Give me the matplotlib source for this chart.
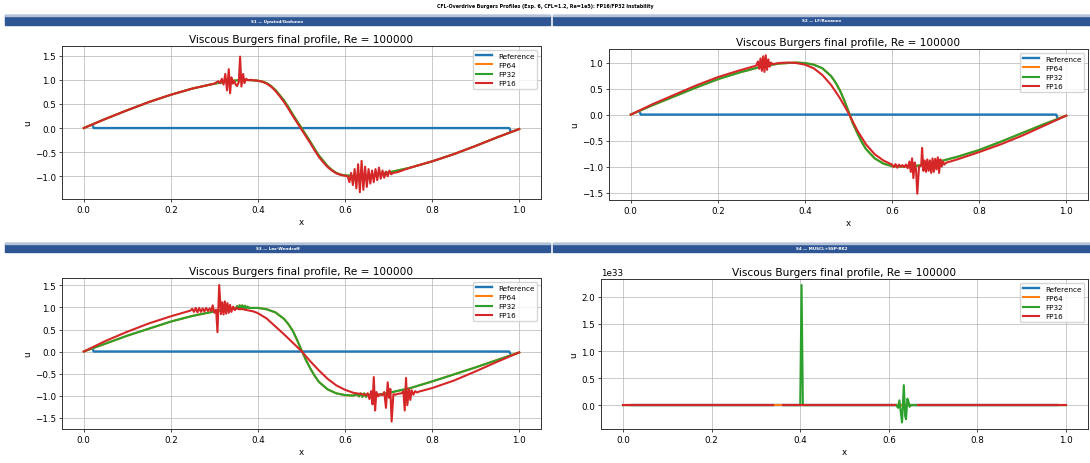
import matplotlib
matplotlib.use("Agg")
import matplotlib.pyplot as plt
from matplotlib.patches import Rectangle

nan = float("nan")

suptitle = "CFL-Overdrive Burgers Profiles (Exp. 6, CFL=1.2, Re=1e5): FP16/FP32 Instability"
panel_headers = ["S1 \u2014 Upwind/Godunov", "S2 \u2014 LF/Rusanov",
                 "S3 \u2014 Lax-Wendroff", "S4 \u2014 MUSCL+SSP-RK2"]
panel_title = "Viscous Burgers final profile, Re = 100000"
series_names = ["Reference", "FP64", "FP32", "FP16"]

# reference profile (same in every panel)
ref_x = [0.02, 0.023, 0.977, 0.98]
ref_u = [0.06, 0.0, 0.0, -0.06]

# ---- S1 upwind / Godunov
s1_fp32_x = [0.00, 0.05, 0.10, 0.15, 0.20, 0.25, 0.30, 0.34, 0.37, 0.40, 0.41, 0.42, 0.43,
             0.44, 0.45, 0.46, 0.47, 0.48, 0.49, 0.50, 0.51, 0.52, 0.53, 0.54, 0.55, 0.56,
             0.57, 0.58, 0.59, 0.60, 0.63, 0.66, 0.70, 0.75, 0.80, 0.85, 0.90, 0.95, 1.00]
s1_fp32_u = [0.00, 0.19, 0.37, 0.54, 0.69, 0.82, 0.92, 0.98, 1.00, 0.98, 0.965, 0.93, 0.87,
             0.79, 0.68, 0.57, 0.43, 0.28, 0.14, 0.00, -0.14, -0.28, -0.43, -0.57, -0.68, -0.79,
             -0.87, -0.93, -0.965, -0.98, -1.00, -0.98, -0.92, -0.82, -0.69, -0.54, -0.37, -0.19, -0.02]
s1_fp64_x, s1_fp64_u = s1_fp32_x, s1_fp32_u
s1_fp16_x = [0.00, 0.05, 0.10, 0.15, 0.20, 0.25, 0.30,
             0.305, 0.309, 0.313, 0.317, 0.321, 0.325, 0.329, 0.333, 0.336, 0.339, 0.342, 0.345,
             0.349, 0.352, 0.356, 0.359, 0.362, 0.366, 0.369, 0.373, 0.377, 0.382,
             0.40, 0.41, 0.42, 0.43, 0.44, 0.45, 0.46, 0.47, 0.48, 0.49, 0.50, 0.51, 0.52, 0.53,
             0.54, 0.55, 0.56, 0.57, 0.58, 0.59,
             0.600, 0.606, 0.610, 0.614, 0.618, 0.622, 0.626, 0.630, 0.634, 0.638, 0.642, 0.646,
             0.650, 0.654, 0.658, 0.662, 0.666, 0.670, 0.674, 0.678, 0.682, 0.686, 0.690, 0.694,
             0.698, 0.702, 0.706, 0.710, 0.72,
             0.75, 0.80, 0.85, 0.90, 0.95, 1.00]
s1_fp16_u = [0.00, 0.19, 0.37, 0.54, 0.69, 0.82, 0.92,
             0.95, 0.97, 0.93, 1.02, 0.90, 1.12, 0.78, 1.22, 0.72, 1.05, 0.92, 0.98,
             0.90, 0.87, 0.95, 1.48, 0.86, 1.12, 0.93, 1.02, 0.99, 1.00,
             0.98, 0.96, 0.92, 0.86, 0.77, 0.66, 0.54, 0.40, 0.25, 0.11, -0.03, -0.17, -0.31, -0.46,
             -0.60, -0.71, -0.81, -0.88, -0.94, -0.97,
             -0.99, -1.00, -1.12, -0.93, -1.18, -0.85, -1.25, -0.75, -1.33, -0.68, -1.28, -0.80,
             -1.22, -0.85, -1.15, -0.88, -1.12, -0.85, -1.08, -0.82, -1.05, -0.88, -1.03, -0.90,
             -1.00, -0.88, -0.96, -0.93, -0.915,
             -0.82, -0.69, -0.54, -0.37, -0.19, -0.02]

# ---- S2 LF / Rusanov
s2_fp32_x = [0.00, 0.05, 0.10, 0.15, 0.20, 0.25, 0.30, 0.34, 0.38, 0.40, 0.42, 0.44, 0.46, 0.47,
             0.48, 0.49, 0.50, 0.51, 0.52, 0.53, 0.54, 0.56, 0.58, 0.60, 0.62, 0.66, 0.70, 0.75,
             0.80, 0.85, 0.90, 0.95, 1.00]
s2_fp32_u = [0.00, 0.18, 0.35, 0.52, 0.68, 0.81, 0.92, 0.98, 1.00, 0.99, 0.96, 0.89, 0.74, 0.62,
             0.47, 0.28, 0.06, -0.17, -0.35, -0.52, -0.66, -0.84, -0.94, -0.99, -1.00, -0.98, -0.92, -0.81,
             -0.68, -0.52, -0.35, -0.18, -0.02]
s2_fp64_x, s2_fp64_u = s2_fp32_x, s2_fp32_u
s2_fp16_x = [0.00, 0.05, 0.10, 0.15, 0.20, 0.25,
             0.288, 0.292, 0.295, 0.298, 0.301, 0.304, 0.307, 0.310, 0.313, 0.316, 0.319, 0.322, 0.326,
             0.34, 0.36, 0.38, 0.40, 0.42, 0.44, 0.46, 0.48, 0.50, 0.52, 0.54, 0.56, 0.58,
             0.600, 0.604, 0.608, 0.612, 0.616, 0.620, 0.624, 0.628, 0.632, 0.636, 0.640, 0.643,
             0.646, 0.649, 0.652, 0.655, 0.658, 0.662, 0.667, 0.669, 0.672, 0.675, 0.678, 0.681,
             0.684, 0.687, 0.690, 0.693, 0.696, 0.699, 0.702, 0.705, 0.708, 0.711, 0.714, 0.717,
             0.720, 0.725, 0.730,
             0.75, 0.80, 0.85, 0.90, 0.95, 1.00]
s2_fp16_u = [0.00, 0.20, 0.38, 0.56, 0.72, 0.85,
             0.94, 1.02, 0.88, 1.08, 0.84, 1.12, 0.82, 1.14, 0.86, 1.06, 0.92, 1.00, 0.97,
             0.99, 1.00, 0.99, 0.96, 0.89, 0.76, 0.57, 0.32, 0.03, -0.30, -0.57, -0.76, -0.88,
             -0.96, -1.01, -0.95, -1.02, -0.96, -1.00, -0.97, -1.01, -0.96, -1.03, -0.90, -1.10,
             -0.84, -1.22, -0.92, -1.05, -1.52, -1.00, -0.98, -0.64, -1.08, -0.88, -1.10, -0.86,
             -1.08, -0.88, -1.12, -0.84, -1.10, -0.85, -1.05, -0.82, -1.12, -0.86, -1.00, -0.90,
             -0.96, -0.92, -0.91,
             -0.86, -0.72, -0.57, -0.40, -0.21, -0.02]

# ---- S3 Lax-Wendroff
s3_fp32_x = [0.00, 0.05, 0.10, 0.15, 0.20, 0.25, 0.30, 0.34,
             0.349, 0.352, 0.355, 0.358, 0.361, 0.364, 0.367, 0.370, 0.373, 0.376, 0.380,
             0.40, 0.42, 0.44, 0.46, 0.47, 0.48, 0.49, 0.50, 0.51, 0.52, 0.53, 0.54, 0.56, 0.58,
             0.60, 0.62,
             0.628, 0.632, 0.636, 0.640, 0.644, 0.648, 0.652, 0.656, 0.660, 0.664, 0.668, 0.672, 0.678,
             0.70, 0.75, 0.80, 0.85, 0.90, 0.95, 1.00]
s3_fp32_u = [0.00, 0.18, 0.36, 0.52, 0.68, 0.81, 0.91, 0.97,
             0.98, 1.03, 0.97, 1.05, 0.96, 1.05, 0.97, 1.04, 0.98, 1.02, 0.99,
             0.99, 0.96, 0.89, 0.74, 0.62, 0.47, 0.26, 0.03, -0.19, -0.38, -0.55, -0.69, -0.86, -0.95,
             -0.99, -1.00,
             -0.97, -1.02, -0.95, -1.03, -0.95, -1.03, -0.96, -1.02, -0.95, -1.01, -0.96, -0.99, -0.98,
             -0.94, -0.83, -0.68, -0.52, -0.36, -0.19, -0.02]
s3_fp64_x, s3_fp64_u = s3_fp32_x, s3_fp32_u
s3_fp16_x = [0.00, 0.05, 0.10, 0.15, 0.20,
             0.245, 0.249, 0.253, 0.257, 0.261, 0.265, 0.269, 0.273, 0.277, 0.281, 0.285, 0.289,
             0.293, 0.296, 0.300, 0.304, 0.307, 0.311, 0.315, 0.318, 0.321, 0.324, 0.327, 0.330,
             0.333, 0.336, 0.339, 0.343, 0.347, 0.351, 0.356, 0.362, 0.37,
             0.39, 0.40, 0.42, 0.44, 0.46, 0.48, 0.50, 0.52, 0.54, 0.56, 0.58, 0.60, 0.62,
             0.640, 0.648, 0.652, 0.656, 0.660, 0.663, 0.666, 0.669, 0.672, 0.676, 0.680, 0.686,
             0.690, 0.694, 0.698, 0.701, 0.704, 0.707, 0.711, 0.716, 0.722, 0.730, 0.734, 0.737,
             0.740, 0.743, 0.747, 0.750, 0.753, 0.757, 0.761, 0.765, 0.77,
             0.80, 0.85, 0.90, 0.95, 1.00]
s3_fp16_u = [0.00, 0.24, 0.45, 0.64, 0.80,
             0.93, 0.97, 0.90, 0.99, 0.89, 0.99, 0.90, 0.98, 0.91, 0.99, 0.92, 0.98,
             0.92, 1.05, 0.88, 0.95, 0.44, 1.51, 0.85, 1.12, 0.84, 1.14, 0.86, 1.10,
             0.88, 1.06, 0.90, 1.02, 0.94, 0.99, 0.96, 0.97, 0.95,
             0.91, 0.87, 0.75, 0.57, 0.39, 0.20, 0.01, -0.22, -0.43, -0.62, -0.77, -0.87, -0.94,
             -0.97, -0.99, -0.95, -1.08, -0.90, -1.20, -0.58, -1.34, -0.92, -1.02, -0.97, -0.99,
             -0.92, -1.28, -0.70, -1.05, -0.85, -1.59, -0.97, -0.98, -0.96, -0.95, -0.90, -1.34,
             -0.60, -1.22, -0.85, -1.10, -0.88, -0.98, -0.90, -0.93, -0.91,
             -0.83, -0.66, -0.45, -0.23, -0.02]

# ---- S4 MUSCL + SSP-RK2 (blow-up, values ~1e33)
s4_fp64_x = [0.0, 1.0]
s4_fp64_u = [0.0, 0.0]
s4_fp32_x = [0.0, 0.338, 0.339, 0.362, 0.400, 0.403, 0.406, 0.617, 0.621, 0.624, 0.627,
             0.630, 0.634, 0.637, 0.639, 0.642, 0.645, 0.647, 0.650, 1.0]
s4_fp32_u = [0.0, 0.0, nan, 0.0, 0.0, 2.22e33, 0.0, 0.0, -0.05e33, 0.09e33, -0.12e33,
             -0.32e33, 0.37e33, -0.20e33, -0.26e33, 0.12e33, 0.05e33, -0.03e33, 0.0, 0.0]
s4_fp16_x = [0.0, 0.338, 0.339, 0.362, 0.615, 0.616, 0.665, 1.0]
s4_fp16_u = [0.0, 0.0, nan, 0.0, 0.0, nan, 0.0, 0.0]

panels = [
    (s1_fp64_x, s1_fp64_u, s1_fp32_x, s1_fp32_u, s1_fp16_x, s1_fp16_u, (-1.47, 1.70)),
    (s2_fp64_x, s2_fp64_u, s2_fp32_x, s2_fp32_u, s2_fp16_x, s2_fp16_u, (-1.64, 1.26)),
    (s3_fp64_x, s3_fp64_u, s3_fp32_x, s3_fp32_u, s3_fp16_x, s3_fp16_u, (-1.76, 1.67)),
    (s4_fp64_x, s4_fp64_u, s4_fp32_x, s4_fp32_u, s4_fp16_x, s4_fp16_u, (-0.44e33, 2.33e33)),
]

W, H = 1090, 464
fig = plt.figure(figsize=(W / 100, H / 100), dpi=100)

# axes boxes in pixels: left, top, right, bottom
boxes = [(62, 47, 541, 200), (609, 50, 1088, 201), (62, 279, 541, 430), (601, 280, 1088, 430)]
# header bars: left, top, right, bottom
bars = [(5, 16, 550, 26), (553, 16, 1090, 26), (5, 244, 550, 253), (553, 244, 1090, 253)]

fig.text(0.5, 1 - 6.5 / H, suptitle, ha="center", va="center", fontsize=3.4, fontweight="bold")

for (l, t, r, b), head in zip(bars, panel_headers):
    fig.patches.append(Rectangle((l / W, 1 - b / H), (r - l) / W, (b - t) / H,
                                 transform=fig.transFigure, color="#2e5694", zorder=0))
    fig.patches.append(Rectangle((l / W, 1 - (t + 1) / H), (r - l) / W, 1 / H,
                                 transform=fig.transFigure, color="#b4c2d8", zorder=1))
    fig.text((l + r) / 2 / W, 1 - (t + b + 1) / 2 / H, head, ha="center", va="center",
             fontsize=3.0, fontweight="bold", color="white")

for (l, t, r, b), p in zip(boxes, panels):
    x64, u64, x32, u32, x16, u16, ylim = p
    ax = fig.add_axes([l / W, 1 - b / H, (r - l) / W, (b - t) / H])
    ax.plot(ref_x, ref_u, color="C0", lw=1.7, label=series_names[0])
    ax.plot(x64, u64, color="C1", lw=1.5, label=series_names[1])
    ax.plot(x32, u32, color="C2", lw=1.5, label=series_names[2])
    ax.plot(x16, u16, color="C3", lw=1.5, label=series_names[3])
    ax.set_xlim(-0.05, 1.05)
    ax.set_ylim(*ylim)
    ax.set_title(panel_title, fontsize=7.6, pad=3)
    ax.set_xlabel("x", fontsize=6.3, labelpad=2)
    ax.set_ylabel("u", fontsize=6.3, labelpad=2)
    ax.tick_params(labelsize=6.3, length=2.2, width=0.5, pad=2)
    ax.yaxis.get_offset_text().set_fontsize(6.3)
    ax.grid(True, color="#b0b0b0", lw=0.6, alpha=0.8)
    for s in ax.spines.values():
        s.set_linewidth(0.7)
        s.set_color("#333333")
    ax.legend(loc="upper right", fontsize=5.2, handlelength=2.2, borderpad=0.4,
              labelspacing=0.45, framealpha=0.8, edgecolor="#cccccc")

fig.savefig("out.png", dpi=100)
